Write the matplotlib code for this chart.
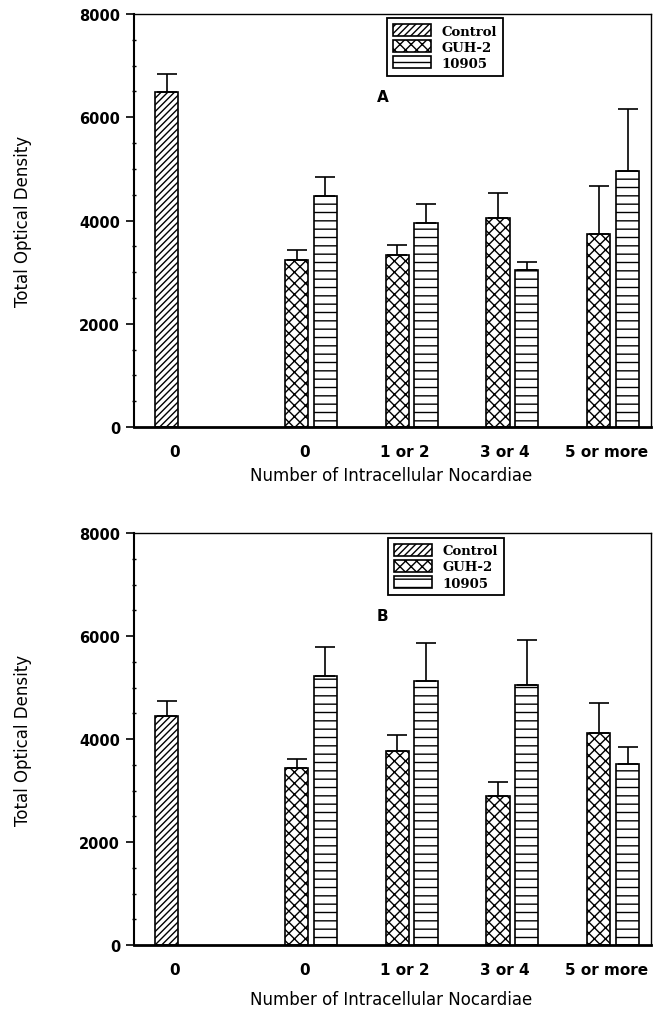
import matplotlib
matplotlib.use('Agg')
import matplotlib.pyplot as plt
from matplotlib.ticker import MultipleLocator
import numpy as np

plt.rcParams['hatch.linewidth'] = 1.0

groups = ['0', '1 or 2', '3 or 4', '5 or more']
ctrl_label = '0'
series = ['Control', 'GUH-2', '10905']

# panel A
ctrl_a = 6485
ctrl_a_err = 355
guh_a = [3231, 3328, 4045, 3735]
guh_a_err = [200, 207, 491, 937]
str_a = [4478, 3955, 3050, 4956]
str_a_err = [369, 368, 155, 1202]

# panel B
ctrl_b = 4443
ctrl_b_err = 292
guh_b = [3441, 3771, 2885, 4120]
guh_b_err = [181, 317, 285, 576]
str_b = [5220, 5136, 5058, 3519]
str_b_err = [563, 731, 867, 330]

fig = plt.figure(figsize=(6.61, 10.12), dpi=100)
ax1 = fig.add_axes([0.2027, 0.5771, 0.782, 0.408])
ax2 = fig.add_axes([0.2027, 0.0652, 0.782, 0.407])

x = np.arange(1, len(groups) + 1)
xc = -0.43
w = 0.231
off = 0.143


def panel(ax, c, cerr, g, gerr, s, serr, letter, leg_xy, xlab_y):
    b0 = ax.bar(xc, c, w, color='white', edgecolor='black', linewidth=1.2, hatch='/////', label=series[0])
    b1 = ax.bar(x - off, g, w, color='white', edgecolor='black', linewidth=1.2, hatch='xxx', label=series[1])
    b2 = ax.bar(x + off, s, w, color='white', edgecolor='black', linewidth=1.2, hatch='--', label=series[2])
    ax.errorbar([xc], [c], yerr=[[0], [cerr]], fmt='none', ecolor='black', elinewidth=1.2, capsize=7.5, capthick=1.2)
    ax.errorbar(x - off, g, yerr=[np.zeros(len(g)), gerr], fmt='none', ecolor='black', elinewidth=1.2, capsize=7.5, capthick=1.2)
    ax.errorbar(x + off, s, yerr=[np.zeros(len(s)), serr], fmt='none', ecolor='black', elinewidth=1.2, capsize=7.5, capthick=1.2)
    ax.set_xlim(-0.756, 4.374)
    ax.set_ylim(0, 8000)
    ax.set_yticks([0, 2000, 4000, 6000, 8000])
    ax.yaxis.set_minor_locator(MultipleLocator(500))
    ax.tick_params(axis='y', which='major', length=6, width=1.2, pad=4, labelsize=10.5)
    ax.tick_params(axis='y', which='minor', length=3, width=1.0, direction='inout')
    for t in ax.get_yticklabels():
        t.set_fontweight('bold')
    ax.set_xticks([-0.35, 0.94, 1.93, 2.92, 3.93])
    ax.set_xticklabels([ctrl_label] + groups, fontsize=11, fontweight='bold')
    ax.tick_params(axis='x', length=0, pad=12)
    ax.spines['bottom'].set_linewidth(2.0)
    ax.spines['left'].set_linewidth(1.5)
    ax.spines['top'].set_linewidth(1.0)
    ax.spines['right'].set_linewidth(1.0)
    ax.set_ylabel('Total Optical Density', fontsize=12, labelpad=0)
    ax.yaxis.set_label_coords(-0.198, 0.5)
    ax.set_xlabel('Number of Intracellular Nocardiae', fontsize=12)
    ax.xaxis.set_label_coords(0.497, xlab_y)
    ax.text(1.71, 6400, letter, fontsize=11, fontweight='bold', ha='center', va='center')
    leg = ax.legend(handles=[b0, b1, b2], loc='upper left', bbox_to_anchor=leg_xy,
                    prop={'family': 'DejaVu Serif', 'weight': 'bold', 'size': 9.5},
                    fancybox=False, edgecolor='black', framealpha=1, borderaxespad=0,
                    handlelength=2.9, handleheight=1.0, labelspacing=0.2,
                    borderpad=0.45, handletextpad=0.8)
    leg.get_frame().set_linewidth(1.3)


panel(ax1, ctrl_a, ctrl_a_err, guh_a, guh_a_err, str_a, str_a_err, 'A', (0.489, 0.99), -0.095)
panel(ax2, ctrl_b, ctrl_b_err, guh_b, guh_b_err, str_b, str_b_err, 'B', (0.491, 0.988), -0.11)

fig.savefig('out.png', dpi=100)
